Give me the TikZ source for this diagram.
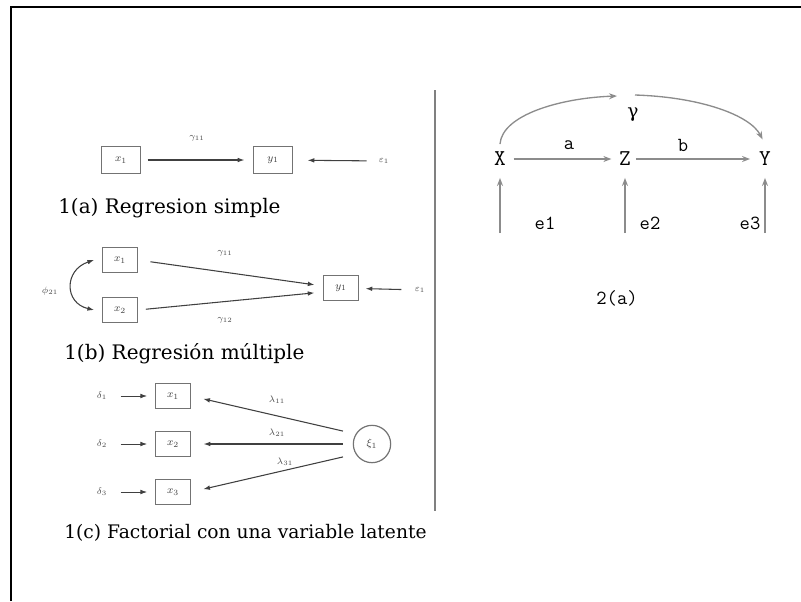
\documentclass[tikz,border=0pt]{standalone}
\usepackage{fontspec}
\setmainfont{DejaVu Serif}
\usetikzlibrary{arrows.meta}

\begin{document}
\begin{tikzpicture}
  [x=0.75pt,y=-0.75pt,
   observed/.style={rectangle,draw=black!55,line width=0.9pt,inner sep=0,
                    minimum width=26pt,minimum height=18.5pt,font=\footnotesize,text=black!75},
   latent/.style={circle,draw=black!55,line width=0.9pt,inner sep=0,
                  minimum size=28pt,font=\footnotesize,text=black!75},
   coef/.style={font=\scriptsize,text=black!70,inner sep=1pt},
   caption/.style={anchor=base west,font=\fontsize{15}{17}\selectfont,inner sep=0},
   effect/.style={draw=black!75,line width=0.8pt,-{Latex[length=5pt,width=3.5pt]}},
   medvar/.style={font=\ttfamily\fontsize{17}{17}\selectfont,inner sep=0,
                  minimum width=16pt,minimum height=22pt},
   medlabel/.style={font=\ttfamily\fontsize{15}{15}\selectfont,inner sep=0},
   medpath/.style={draw=black!45,line width=1pt,-{Stealth[length=6pt,width=4.5pt]}}]
  \useasboundingbox (0,0) rectangle (801,601);
  % frame and separator
  \draw[line width=1.5pt] (11,601) -- (11,7) -- (801,7);
  \draw[black!50,line width=1.5pt] (435,90) -- (435,511);

  % 1(a)
  \node[observed,minimum width=29pt,minimum height=20pt] (ax) at (121,160) {$x_1$};
  \node[observed,minimum width=29pt,minimum height=20pt] (ay) at (273,160) {$y_1$};
  \node[coef] (ae) at (384,161) {$\varepsilon_1$};
  \node[coef] (ag) at (197,138) {$\gamma_{11}$};
  \node[caption] (acap) at (58,213) {1(a) Regresion simple};
  \draw[effect,shorten <=5pt,shorten >=6.5pt] (ax) -- (ay);
  \draw[effect,shorten <=8pt,shorten >=11pt] (ae) -- (ay);

  % 1(b)
  \node[observed] (bx1) at (120,260) {$x_1$};
  \node[observed] (bx2) at (120,310) {$x_2$};
  \node[observed] (by) at (341,288) {$y_1$};
  \node[coef] (be) at (420,290) {$\varepsilon_1$};
  \node[coef] (bphi) at (50,291) {$\phi_{21}$};
  \node[coef] (bg1) at (225,253) {$\gamma_{11}$};
  \node[coef] (bg2) at (225,320) {$\gamma_{12}$};
  \node[caption] (bcap) at (64,359) {1(b) Regresión múltiple};
  \draw[effect,shorten <=9.5pt,shorten >=6.5pt] (bx1.east) -- ([yshift=1.5pt]by.west);
  \draw[effect,shorten <=6pt,shorten >=6.5pt] (bx2.east) -- ([yshift=-3pt]by.west);
  \draw[effect,shorten <=9pt,shorten >=5pt] (be) -- (by);
  \draw[effect,{Latex[length=5pt,width=3.5pt]}-{Latex[length=5pt,width=3.5pt]}]
    ([xshift=-6pt]bx1.west) .. controls (64,270) and (64,303) .. ([xshift=-6pt]bx2.west);

  % 1(c)
  \node[observed] (cx1) at (173,396) {$x_1$};
  \node[observed] (cx2) at (173,444) {$x_2$};
  \node[observed] (cx3) at (173,492) {$x_3$};
  \node[latent] (xi) at (372,444) {$\xi_1$};
  \node[coef] (d1) at (102,396) {$\delta_1$};
  \node[coef] (d2) at (102,444) {$\delta_2$};
  \node[coef] (d3) at (102,492) {$\delta_3$};
  \node[coef] (l11) at (277,400) {$\lambda_{11}$};
  \node[coef] (l21) at (277,433) {$\lambda_{21}$};
  \node[coef] (l31) at (285,462) {$\lambda_{31}$};
  \node[caption,font=\fontsize{14}{16}\selectfont] (ccap) at (64,538) {1(c) Factorial con una variable latente};
  \foreach \i in {1,2,3}
    \draw[effect,line width=0.6pt,shorten <=9pt,shorten >=6pt] (d\i) -- (cx\i);
  \draw[effect,shorten <=7.5pt,shorten >=9.5pt] ([yshift=8pt]xi.west) -- (cx1.east);
  \draw[effect,shorten <=7.5pt,shorten >=9.5pt] (xi.west) -- (cx2.east);
  \draw[effect,shorten <=7.5pt,shorten >=9.5pt] ([yshift=-8pt]xi.west) -- (cx3.east);

  % 2(a)
  \node[medvar] (X) at (500,159) {X};
  \node[medvar] (Z) at (625,159) {Z};
  \node[medvar] (Y) at (765,159) {Y};
  \node[medlabel] (la) at (569,145) {a};
  \node[medlabel] (lb) at (683,145) {b};
  \node[medlabel,font=\fontsize{14}{14}\selectfont] (lg) at (633,115) {γ};
  \node[medlabel] (le1) at (545,223) {e1};
  \node[medlabel] (le2) at (650,223) {e2};
  \node[medlabel] (le3) at (750,223) {e3};
  \node[medlabel] (cap2) at (617,298) {2(a)};
  \coordinate (u1) at (500,233);
  \coordinate (u2) at (625,233);
  \coordinate (u3) at (765,233);
  \coordinate (gin) at (617,96);
  \coordinate (gout) at (635,95);
  \draw[medpath,shorten <=2pt,shorten >=2pt] (X) -- (Z);
  \draw[medpath,shorten >=3pt] (Z) -- (Y);
  \foreach \v/\u in {X/u1,Z/u2,Y/u3}
    \draw[medpath,shorten >=3pt] (\u) -- (\v);
  \draw[medpath] (X.north) .. controls (502,115) and (560,98) .. (gin);
  \draw[medpath,shorten >=4pt] (gout) .. controls (700,97) and (750,115) .. (Y.north);
\end{tikzpicture}
\end{document}
